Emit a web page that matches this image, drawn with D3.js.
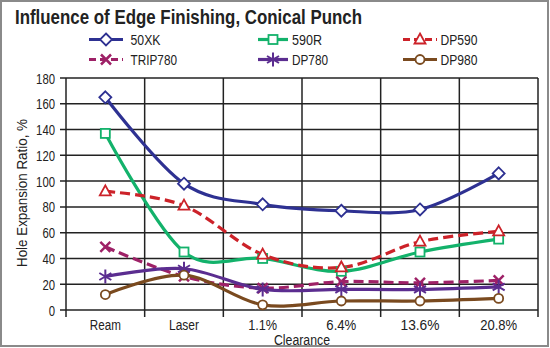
<!DOCTYPE html>
<html><head><meta charset="utf-8">
<script src="https://cdn.jsdelivr.net/npm/d3@7/dist/d3.min.js"></script>
<style>
body{margin:0;background:#fff;}
svg{display:block;font-family:"Liberation Sans Narrow","Arial Narrow","Liberation Sans",Arial,sans-serif;}
</style></head><body>
<svg id="c" width="550" height="348"></svg>
<script>
const categories = ["Ream","Laser","1.1%","6.4%","13.6%","20.8%"];
const yTicks = [0,20,40,60,80,100,120,140,160,180];
const s50XK   = [165, 98, 82, 77, 78, 106];
const s590R   = [137, 45, 40, 30, 45, 55];
const sDP590  = [92, 81, 43, 33, 53, 61];
const sTRIP780= [49, 26, 17, 22, 21, 23];
const sDP780  = [26, 32, 16, 16, 16, 18];
const sDP980  = [12, 27, 4, 7, 7, 9];
const seriesNames = ["50XK","590R","DP590","TRIP780","DP780","DP980"];

const series = [
  {name:"50XK", values:s50XK, color:"#2e3192", dash:null, marker:"diamond"},
  {name:"590R", values:s590R, color:"#13b26b", dash:null, marker:"square"},
  {name:"DP590", values:sDP590, color:"#cc2229", dash:"10,5", marker:"triangle"},
  {name:"TRIP780", values:sTRIP780, color:"#9e2167", dash:"10,5", marker:"x"},
  {name:"DP780", values:sDP780, color:"#5b2d90", dash:null, marker:"star"},
  {name:"DP980", values:sDP980, color:"#7a4a1f", dash:null, marker:"circle"}
];

const svg = d3.select("#c");
svg.append("rect").attr("x",1).attr("y",1).attr("width",547).attr("height",345)
  .attr("fill","#fff").attr("stroke","#8a8a8a").attr("stroke-width",2);

// text helper with fitted length (condensed face)
function txt(parent, str, xx, yy, size, anchor, len, weight){
  const t = parent.append("text").attr("x",xx).attr("y",yy)
    .attr("font-size",size).attr("fill","#222").attr("text-anchor",anchor||"start")
    .attr("font-weight",weight||"normal").text(str);
  if(len){ t.attr("textLength",len).attr("lengthAdjust","spacingAndGlyphs"); }
  return t;
}

const L=66,R=538,T=78,B=310;
const x = d3.scaleBand().domain(categories).range([L,R]);
const y = d3.scaleLinear().domain([0,180]).range([B,T]);

const g = svg.append("g");
g.selectAll("line.h").data(yTicks).join("line")
  .attr("x1",L-6).attr("x2",R).attr("y1",d=>y(d)).attr("y2",d=>y(d))
  .attr("stroke","#222").attr("stroke-width",1.5);
const vx = categories.map(c=>x(c)).concat([R]);
g.selectAll("line.v").data(vx).join("line")
  .attr("x1",d=>d).attr("x2",d=>d).attr("y1",T).attr("y2",B+7)
  .attr("stroke","#222").attr("stroke-width",1.5);

const yl = svg.append("g");
yTicks.forEach(d=>txt(yl, d, 55, y(d)+5.5, 15.5, "end", String(d).length*6.3));
const xLen = {"Ream":31,"Laser":30,"1.1%":29,"6.4%":30,"13.6%":39,"20.8%":37};
const xl = svg.append("g");
categories.forEach(c=>txt(xl, c, x(c)+x.bandwidth()/2, 329.5, 15.5, "middle", xLen[c]));
txt(svg, "Clearance", x("6.4%"), 344.5, 15.5, "middle", 56);
svg.append("text").attr("transform","translate(27,193) rotate(-90)").attr("text-anchor","middle")
  .attr("font-size",15.5).attr("fill","#222")
  .attr("textLength",148).attr("lengthAdjust","spacingAndGlyphs").text("Hole Expansion Ratio, %");

txt(svg, "Influence of Edge Finishing, Conical Punch", 15, 23.5, 19.5, "start", 347, "bold");

const cx = i => x(categories[i]) + x.bandwidth()/2;
const line = d3.line().x((d,i)=>cx(i)).y(d=>y(d)).curve(d3.curveCatmullRom.alpha(0));

function drawMarker(sel, type, color){
  const sw=1.8;
  if(type==="diamond"){
    sel.append("path").attr("d","M0,-6L6,0L0,6L-6,0Z").attr("fill","#fff").attr("stroke",color).attr("stroke-width",sw);
  } else if(type==="square"){
    sel.append("rect").attr("x",-4.5).attr("y",-4.5).attr("width",9).attr("height",9).attr("fill","#fff").attr("stroke",color).attr("stroke-width",sw);
  } else if(type==="triangle"){
    sel.append("path").attr("d","M0,-6L5.5,4L-5.5,4Z").attr("fill","#fff").attr("stroke",color).attr("stroke-width",sw);
  } else if(type==="circle"){
    sel.append("circle").attr("r",4.5).attr("fill","#fff").attr("stroke",color).attr("stroke-width",sw);
  } else if(type==="x"){
    sel.append("path").attr("d","M-5,-5L5,5M5,-5L-5,5").attr("stroke",color).attr("stroke-width",2.5);
  } else if(type==="star"){
    sel.append("path").attr("d","M0,-7L0,7M-6,-3.5L6,3.5M6,-3.5L-6,3.5").attr("stroke",color).attr("stroke-width",2);
  }
}

series.forEach(s=>{
  svg.append("path").datum(s.values).attr("d",line).attr("fill","none")
    .attr("stroke",s.color).attr("stroke-width",3.2)
    .attr("stroke-dasharray",s.dash);
});
series.forEach(s=>{
  s.values.forEach((v,i)=>{
    const m = svg.append("g").attr("transform",`translate(${cx(i)},${y(v)})`);
    drawMarker(m,s.marker,s.color);
  });
});

const legPos = [[89,39.5],[258,39.5],[403,39.5],[89,59.5],[258,59.5],[403,59.5]];
const legLen = [30,30,37,46.5,36,37];
series.forEach((s,i)=>{
  const [lx,ly]=legPos[i];
  const lg = svg.append("g").attr("transform",`translate(${lx},${ly})`);
  const w = i%3===0?34:(i%3===1?30:34);
  lg.append("line").attr("x1",0).attr("x2",w).attr("y1",0).attr("y2",0)
    .attr("stroke",s.color).attr("stroke-width",3.2).attr("stroke-dasharray",s.dash?"7,4":null);
  const m = lg.append("g").attr("transform",`translate(${w/2},0)`);
  drawMarker(m,s.marker,s.color);
  txt(lg, seriesNames[i], w+(i%3===0?7.5:(i%3===1?4:3.5)), 5.3, 15.5, "start", legLen[i]);
});
</script>
</body></html>
